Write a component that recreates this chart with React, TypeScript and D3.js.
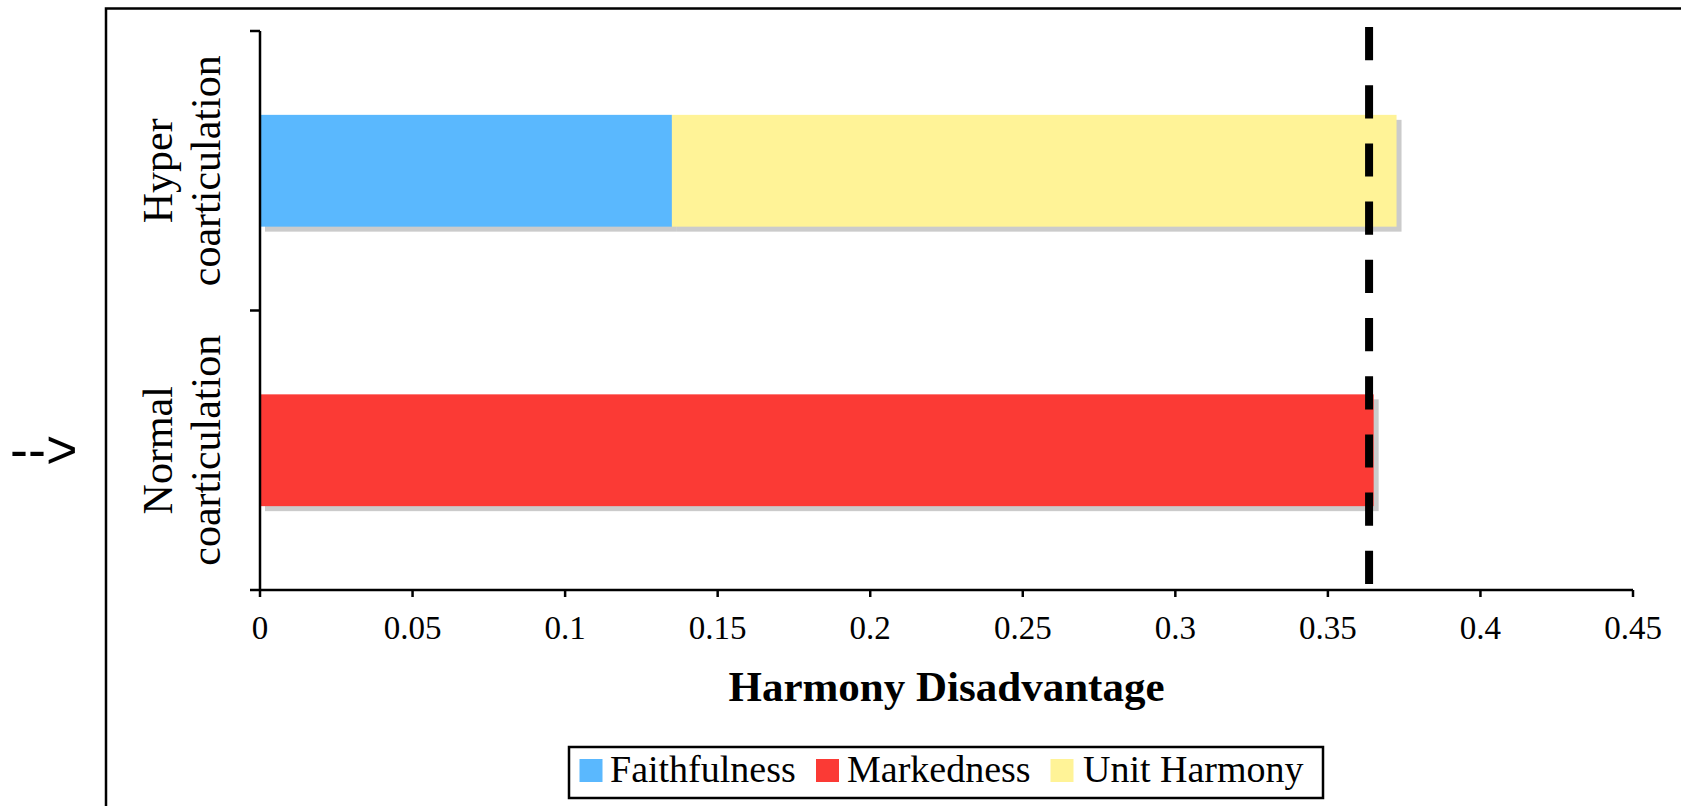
import React from "react";
import * as d3 from "d3";

// Categories, top to bottom
const categories: string[][] = [
  ["Hyper", "coarticulation"],
  ["Normal", "coarticulation"],
];
const categoryKeys = ["hyper", "normal"];

// Stacked components of the harmony disadvantage per category
const seriesNames = ["Faithfulness", "Markedness", "Unit Harmony"];
const seriesColors = ["#5ab8fe", "#fb3a35", "#fff397"];
const faithfulness = [0.135, 0];
const markedness = [0, 0.365];
const unitHarmony = [0.2375, 0];

// Reference threshold drawn as a dashed vertical line
const thresholdValue = 0.3635;

const xTicks = [0, 0.05, 0.1, 0.15, 0.2, 0.25, 0.3, 0.35, 0.4, 0.45];
const xTickLabels = ["0", "0.05", "0.1", "0.15", "0.2", "0.25", "0.3", "0.35", "0.4", "0.45"];

const W = 1681;
const H = 806;
const plot = { left: 260, right: 1633, top: 31, bottom: 590 };
const serif = '"Liberation Serif", "Times New Roman", Times, serif';

export default function App() {
  const x = d3.scaleLinear().domain([0, 0.45]).range([plot.left, plot.right]);
  const y = d3
    .scaleBand<string>()
    .domain(categoryKeys)
    .range([plot.top, plot.bottom])
    .paddingInner(0.6)
    .paddingOuter(0.3);

  const rows = categoryKeys.map((k, i) => ({
    key: k,
    Faithfulness: faithfulness[i],
    Markedness: markedness[i],
    "Unit Harmony": unitHarmony[i],
  }));
  const stacked = d3.stack<any>().keys(seriesNames)(rows);

  const bw = y.bandwidth();
  const step = y.step();
  // category boundary ticks on the vertical axis
  const catTicks = [plot.top, ...categoryKeys.map((k) => (y(k) as number) + bw + (step - bw) / 2)];
  catTicks[catTicks.length - 1] = plot.bottom;

  const shadowOff = 5;
  const axisStroke = 2.5;

  return (
    <svg
      width={W}
      height={H}
      style={{ position: "absolute", left: 0, top: 0, background: "#fff" }}
    >
      {/* outer frame */}
      <rect x={106} y={8.5} width={W} height={H} fill="none" stroke="#000" strokeWidth={2.5} />

      {/* arrow marker at the left */}
      <text x={10} y={468} fontFamily='"Liberation Sans", Arial, sans-serif' fontSize={54} fill="#000">
        {"-->"}
      </text>

      {/* bar shadows */}
      {stacked.map((s) =>
        s.map((d, i) =>
          d[1] - d[0] > 0 ? (
            <rect
              key={`sh-${s.key}-${i}`}
              x={x(d[0]) + shadowOff}
              y={(y(categoryKeys[i]) as number) + shadowOff}
              width={x(d[1]) - x(d[0])}
              height={bw}
              fill="#cbcbcb"
            />
          ) : null
        )
      )}

      {/* stacked bars */}
      {stacked.map((s, si) =>
        s.map((d, i) =>
          d[1] - d[0] > 0 ? (
            <rect
              key={`b-${s.key}-${i}`}
              x={x(d[0])}
              y={y(categoryKeys[i]) as number}
              width={x(d[1]) - x(d[0])}
              height={bw}
              fill={seriesColors[si]}
            />
          ) : null
        )
      )}

      {/* vertical axis */}
      <line x1={plot.left} x2={plot.left} y1={plot.top} y2={plot.bottom} stroke="#000" strokeWidth={axisStroke} />
      {catTicks.map((t, i) => (
        <line key={`ct-${i}`} x1={plot.left - 10} x2={plot.left} y1={t} y2={t} stroke="#000" strokeWidth={axisStroke} />
      ))}

      {/* horizontal axis */}
      <line x1={plot.left} x2={plot.right} y1={plot.bottom} y2={plot.bottom} stroke="#000" strokeWidth={axisStroke} />
      {xTicks.map((t, i) => (
        <g key={`xt-${i}`}>
          <line x1={x(t)} x2={x(t)} y1={plot.bottom} y2={plot.bottom + 7} stroke="#000" strokeWidth={axisStroke} />
          <text x={x(t)} y={639} textAnchor="middle" fontFamily={serif} fontSize={33} fill="#000">
            {xTickLabels[i]}
          </text>
        </g>
      ))}

      {/* dashed threshold line */}
      <line
        x1={x(thresholdValue)}
        x2={x(thresholdValue)}
        y1={27}
        y2={584}
        stroke="#000"
        strokeWidth={8}
        strokeDasharray="33.2 25"
      />

      {/* category labels */}
      {categoryKeys.map((k, i) => {
        const cy = (y(k) as number) + bw / 2;
        return (
          <g key={`cl-${k}`} transform={`translate(0,${cy})`}>
            <text
              transform="rotate(-90)"
              x={0}
              y={172}
              textAnchor="middle"
              fontFamily={serif}
              fontSize={42}
              fill="#000"
            >
              {categories[i][0]}
            </text>
            <text
              transform="rotate(-90)"
              x={0}
              y={220}
              textAnchor="middle"
              fontFamily={serif}
              fontSize={42}
              fill="#000"
            >
              {categories[i][1]}
            </text>
          </g>
        );
      })}

      {/* axis title */}
      <text
        x={(plot.left + plot.right) / 2}
        y={701}
        textAnchor="middle"
        fontFamily={serif}
        fontWeight="bold"
        fontSize={43}
        fill="#000"
      >
        Harmony Disadvantage
      </text>

      {/* legend */}
      <rect x={569} y={747} width={754} height={51} fill="#fff" stroke="#000" strokeWidth={2.5} />
      {[
        { sx: 579.5, tx: 610 },
        { sx: 816, tx: 847 },
        { sx: 1050.5, tx: 1083 },
      ].map((p, i) => (
        <g key={`lg-${i}`}>
          <rect x={p.sx} y={759} width={23} height={23} fill={seriesColors[i]} />
          <text x={p.tx} y={782} fontFamily={serif} fontSize={38} fill="#000">
            {seriesNames[i]}
          </text>
        </g>
      ))}
    </svg>
  );
}
